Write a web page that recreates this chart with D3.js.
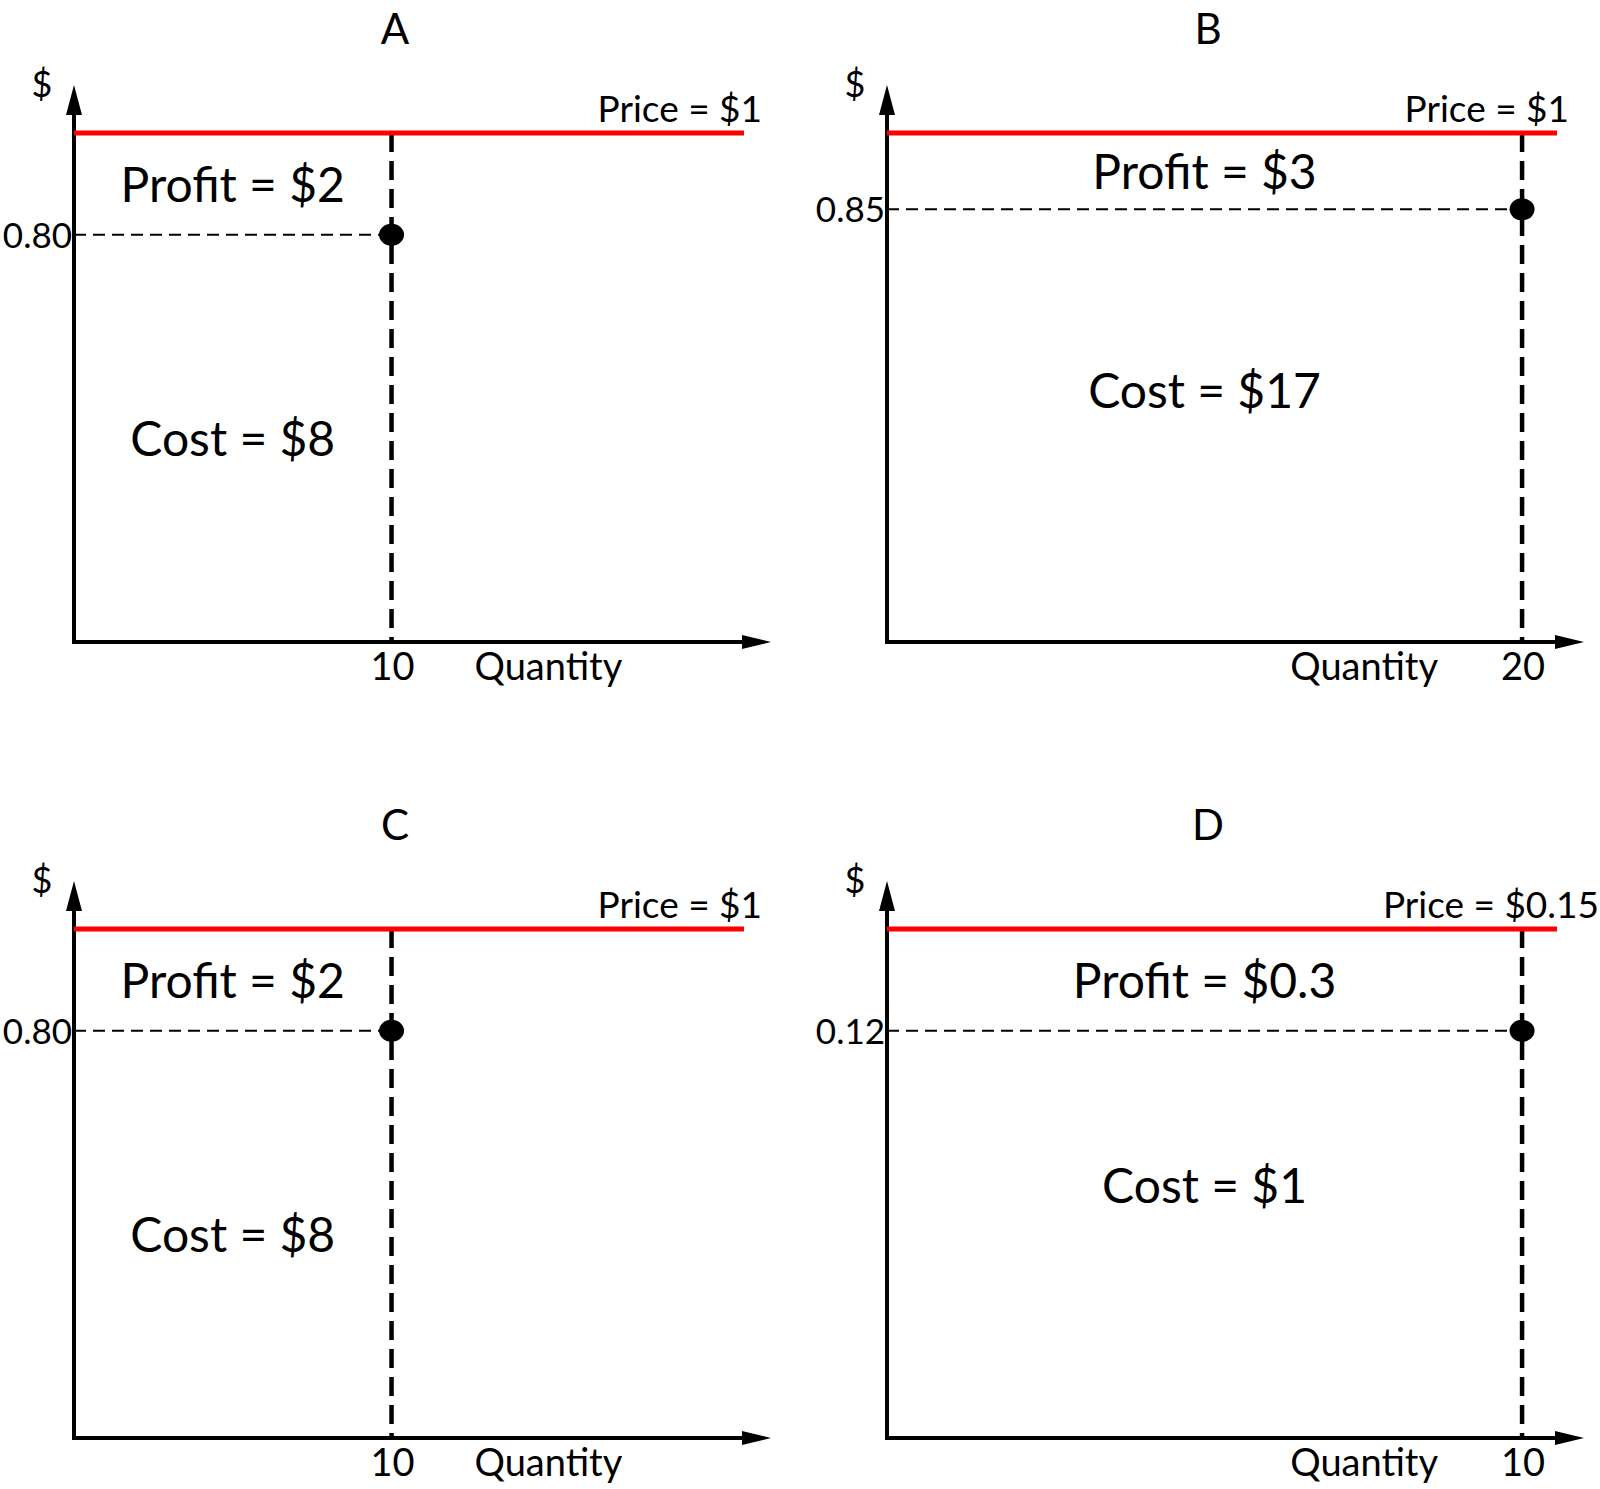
<!DOCTYPE html>
<html>
<head>
<meta charset="utf-8">
<script src="https://cdn.jsdelivr.net/npm/d3@7"></script>
<style>
  html, body { margin: 0; padding: 0; background: #fff; }
  text { font-family: Lato, "Open Sans", sans-serif; fill: #000; }
</style>
</head>
<body>
<svg id="chart" width="1600" height="1489"></svg>
<script>
// ---- data ----
const panelTitles   = ["A", "B", "C", "D"];
const prices        = [1, 1, 1, 0.15];
const quantities    = [10, 20, 10, 10];
const avgCosts      = [0.80, 0.85, 0.80, 0.12];
const qMax          = [21.1, 21.1, 21.1, 10.55];
const priceLabels   = ["Price = $1", "Price = $1", "Price = $1", "Price = $0.15"];
const profitLabels  = ["Profit = $2", "Profit = $3", "Profit = $2", "Profit = $0.3"];
const costLabels    = ["Cost = $8", "Cost = $17", "Cost = $8", "Cost = $1"];
const costTickLabels = ["0.80", "0.85", "0.80", "0.12"];
const qtyTickLabels  = ["10", "20", "10", "10"];
const costLabelFrac  = [0.40, 0.495, 0.40, 0.498]; // fraction of price height for cost label centre

// ---- layout ----
const origins = [[74, 642], [887, 642], [74, 1438], [887, 1438]];
const plotW = 670, plotH = 509;
const priceLabelPad = [18, 12, 18, 42];

const svg = d3.select("#chart");

panelTitles.forEach((title, i) => {
  const [ox, oy] = origins[i];
  const x = d3.scaleLinear().domain([0, qMax[i]]).range([ox, ox + plotW]);
  const y = d3.scaleLinear().domain([0, prices[i]]).range([oy, oy - plotH]);
  const g = svg.append("g");

  // title
  g.append("text").attr("x", ox + 321).attr("y", oy - 598)
    .attr("text-anchor", "middle").style("font-size", "42px").text(title);

  // axes
  g.append("line").attr("x1", ox).attr("y1", oy).attr("x2", ox).attr("y2", oy - 530)
    .attr("stroke", "#000").attr("stroke-width", 4);
  g.append("path").attr("d", `M${ox},${oy - 557} L${ox - 8},${oy - 527} L${ox + 8},${oy - 527} Z`).attr("fill", "#000");
  g.append("line").attr("x1", ox - 2).attr("y1", oy).attr("x2", ox + 675).attr("y2", oy)
    .attr("stroke", "#000").attr("stroke-width", 4);
  g.append("path").attr("d", `M${ox + 697},${oy} L${ox + 668},${oy - 7} L${ox + 668},${oy + 7} Z`).attr("fill", "#000");

  // $ axis label
  g.append("text").attr("x", ox - 32).attr("y", oy - 545)
    .attr("text-anchor", "middle").style("font-size", "36px").text("$");

  // horizontal dashed at average cost
  g.append("line").attr("x1", x(0)).attr("x2", x(quantities[i]))
    .attr("y1", y(avgCosts[i])).attr("y2", y(avgCosts[i]))
    .attr("stroke", "#000").attr("stroke-width", 2).attr("stroke-dasharray", "12,7");

  // vertical dashed at quantity
  g.append("line").attr("x1", x(quantities[i])).attr("x2", x(quantities[i]))
    .attr("y1", y(prices[i])).attr("y2", y(0))
    .attr("stroke", "#000").attr("stroke-width", 4.5).attr("stroke-dasharray", "19,9");

  // price line
  g.append("line").attr("x1", x(0)).attr("x2", x(qMax[i]))
    .attr("y1", y(prices[i])).attr("y2", y(prices[i]))
    .attr("stroke", "#ff0000").attr("stroke-width", 5);

  // dot
  g.append("ellipse").attr("cx", x(quantities[i])).attr("cy", y(avgCosts[i]))
    .attr("rx", 12.5).attr("ry", 11).attr("fill", "#000");

  // price label
  g.append("text").attr("x", x(qMax[i]) + priceLabelPad[i]).attr("y", y(prices[i]) - 11)
    .attr("text-anchor", "end").style("font-size", "37px").text(priceLabels[i]);

  // y tick label
  g.append("text").attr("x", ox - 2).attr("y", y(avgCosts[i]) + 13)
    .attr("text-anchor", "end").style("font-size", "35px").text(costTickLabels[i]);

  // x tick label
  g.append("text").attr("x", x(quantities[i]) + 1).attr("y", oy + 38)
    .attr("text-anchor", "middle").style("font-size", "38px").text(qtyTickLabels[i]);

  // Quantity label
  const rightSide = x(quantities[i]) > ox + plotW / 2;
  g.append("text")
    .attr("x", rightSide ? x(quantities[i]) - 84 : x(quantities[i]) + 83)
    .attr("y", oy + 38)
    .attr("text-anchor", rightSide ? "end" : "start")
    .style("font-size", "38px").text("Quantity");

  // Profit label (centred in profit rectangle)
  const midX = (x(0) + x(quantities[i])) / 2;
  const profitMid = (y(prices[i]) + y(avgCosts[i])) / 2;
  g.append("text").attr("x", midX).attr("y", profitMid + 18)
    .attr("text-anchor", "middle").style("font-size", "48px").text(profitLabels[i]);

  // Cost label
  const costMid = y(prices[i] * costLabelFrac[i]);
  g.append("text").attr("x", midX).attr("y", costMid + 18)
    .attr("text-anchor", "middle").style("font-size", "48px").text(costLabels[i]);
});
</script>
</body>
</html>
